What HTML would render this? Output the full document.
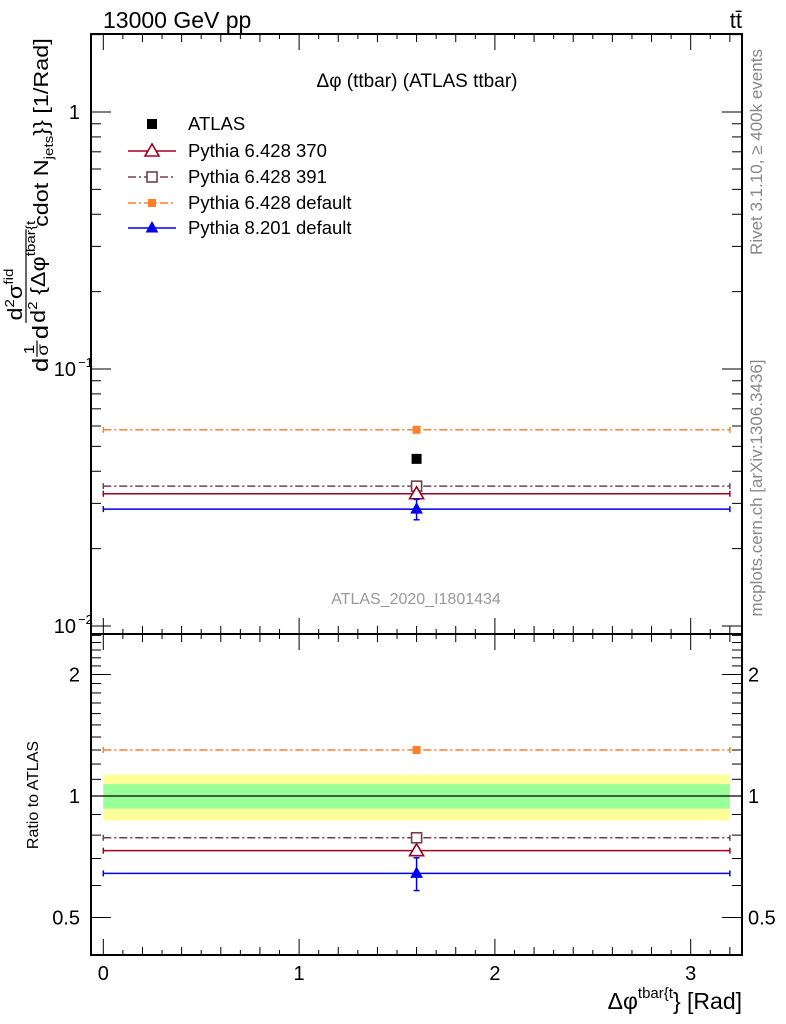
<!DOCTYPE html>
<html><head><meta charset="utf-8">
<style>
html,body{margin:0;padding:0;background:#fff;}
svg{display:block;font-family:"Liberation Sans",sans-serif;}
</style></head>
<body>
<svg id="chart" width="786" height="1024" viewBox="0 0 786 1024" xmlns="http://www.w3.org/2000/svg">
<rect x="0" y="0" width="786" height="1024" fill="#fff"/>
<g id="main-panel"></g>
<g id="ratio-panel"></g>
<text x="103" y="28" font-size="23">13000 GeV pp</text>
<text x="742" y="28" font-size="22" text-anchor="end">tt̄</text>
<text x="417" y="87" font-size="19" text-anchor="middle">Δφ (ttbar) (ATLAS ttbar)</text>
<text x="416" y="604" font-size="16" fill="#999" text-anchor="middle">ATLAS_2020_I1801434</text>
<text transform="translate(762,152) rotate(-90)" font-size="17" fill="#888" text-anchor="middle">Rivet 3.1.10, ≥ 400k events</text>
<text transform="translate(762,488) rotate(-90)" font-size="17" fill="#888" text-anchor="middle">mcplots.cern.ch [arXiv:1306.3436]</text>
<g transform="translate(48,372) rotate(-90) scale(1.17,1)">
  <text x="0" y="0" font-size="22">d</text>
  <text x="15" y="-14" font-size="15">1</text>
  <line x1="13" y1="-11" x2="27" y2="-11" stroke="#000" stroke-width="1.2"/>
  <text x="14" y="0" font-size="16">σ</text>
  <text x="28" y="0" font-size="22">d</text>
  <text x="44" y="-26" font-size="20">d<tspan font-size="13" dy="-8">2</tspan><tspan dy="8">σ</tspan><tspan font-size="13" dy="-9">fid</tspan></text>
  <line x1="42" y1="-22" x2="122" y2="-22" stroke="#000" stroke-width="1.2"/>
  <text x="42" y="-3" font-size="20">d<tspan font-size="13" dy="-8">2</tspan><tspan dy="8"> {Δφ</tspan><tspan font-size="13" dy="-10">tbar{t</tspan></text>
  <text x="124" y="0" font-size="20">cdot N<tspan font-size="13" dy="5">jets</tspan><tspan dy="-5">}} [1/Rad]</tspan></text>
</g>
<text transform="translate(38,795) rotate(-90)" font-size="16" text-anchor="middle">Ratio to ATLAS</text>
<text x="742" y="1009" font-size="23" text-anchor="end">Δφ<tspan font-size="15" dy="-11">tbar{t</tspan><tspan dy="11">} [Rad]</tspan></text>
</svg>
<script>
const binLo = [0.0];
const binHi = [3.2];
const binCenter = [1.6];
const seriesNames = ["ATLAS","Pythia 6.428 370","Pythia 6.428 391","Pythia 6.428 default","Pythia 8.201 default"];
const atlasValues = [0.0447];
const p370Values = [0.0327];
const p391Values = [0.0350];
const p6defValues = [0.0580];
const p8defValues = [0.0285];
const p8defErr = [0.0026];
const ratio370 = [0.732];
const ratio391 = [0.788];
const ratio6def = [1.30];
const ratio8def = [0.643];
const ratio8defErr = [0.06];
const ratio6defErr = [0.02];
const bandInner = [0.07];
const bandOuter = [0.13];
const xTickLabels = ["0","1","2","3"];
const ratioTickLabels = ["0.5","1","2"];

const NS="http://www.w3.org/2000/svg";
const L=91, R=742, MT=34, MB=634, RB=955;
const x = v => 103.3 + v*195.8;
const ym = v => 112 - Math.log10(v)*257;
const yr = v => 796 - Math.log2(v)*121.5;
const main=document.getElementById('main-panel');
const rat=document.getElementById('ratio-panel');
function mk(p,tag,at){const e=document.createElementNS(NS,tag);for(const k in at)e.setAttribute(k,at[k]);p.appendChild(e);return e;}
function ln(p,x1,y1,x2,y2,c,w,d){return mk(p,'line',{x1,y1,x2,y2,stroke:c,'stroke-width':w||1,'stroke-dasharray':d||'none'});}

let f=mk(main,'rect',{x:L,y:MT,width:R-L,height:MB-MT,fill:'none',stroke:'#000','stroke-width':2});


let f2=mk(rat,'rect',{x:L,y:MB,width:R-L,height:RB-MB,fill:'none',stroke:'#000','stroke-width':2});



for(let i=0;i<=32;i++){
  const v=i/10, X=x(v), major=(i%10===0), len=major?16:(i%2===0?8:5);
  if(X>R)continue;
  [[MT,1],[MB,-1],[MB,1],[RB,-1]].forEach(([y0,s])=>ln(main,X,y0,X,y0+s*len,'#000',1));
}
xTickLabels.forEach((t,i)=>{
  const e=mk(rat,'text',{x:x(i),y:980,'font-size':20,'text-anchor':'middle'});e.textContent=t;
  
  
});
for(let d=-3;d<=0;d++){
  for(let m=1;m<=9;m++){
    const v=m*Math.pow(10,d), Y=ym(v);
    if(Y<MT||Y>MB)continue;
    const len=m===1?20:10;
    ln(main,L,Y,L+len,Y,'#000',1); ln(main,R,Y,R-len,Y,'#000',1);
  }
}
[[1,'1'],[0.1,'10'],[0.01,'10']].forEach(([v,t],i)=>{
  const e=mk(main,'text',{x:i===0?80:76,y:ym(v)+7,'font-size':20,'text-anchor':'end'});e.textContent=t;
  
  
  if(i>0){const s=mk(main,'text',{x:78,y:ym(v)-2,'font-size':13});s.textContent=i===1?'−1':'−2';}
});
for(let v=0.4;v<=2.55;v+=0.1){
  const Y=yr(v); if(Y<MB||Y>RB)continue;
  const r=Math.round(v*10)/10, major=(r===0.5||r===1||r===2), len=major?20:10;
  ln(rat,L,Y,L+len,Y,'#000',1); ln(rat,R,Y,R-len,Y,'#000',1);
}
ratioTickLabels.forEach(t=>{
  const v=parseFloat(t);
  let e=mk(rat,'text',{x:80,y:yr(v)+7,'font-size':20,'text-anchor':'end'});e.textContent=t;
  
  
  e=mk(rat,'text',{x:748,y:yr(v)+7,'font-size':20});e.textContent=t;
  
  
});

binLo.forEach((lo,i)=>{
  let b=mk(rat,'rect',{x:x(lo),y:yr(1+bandOuter[i]),width:x(binHi[i])-x(lo),height:yr(1-bandOuter[i])-yr(1+bandOuter[i]),fill:'#ffff99'});
  
  
  b=mk(rat,'rect',{x:x(lo),y:yr(1+bandInner[i]),width:x(binHi[i])-x(lo),height:yr(1-bandInner[i])-yr(1+bandInner[i]),fill:'#99ff99'});
  
  
});
ln(rat,L,yr(1),R,yr(1),'#000',1.2);

const styles=[
  {c:'#a00020',d:'none',m:'tri-open'},
  {c:'#704050',d:'8,3,2,3',m:'sq-open'},
  {c:'#ff7f2a',d:'8,3,2,3',m:'sq-fill'},
  {c:'#0000ee',d:'none',m:'tri-fill'}
];
function marker(p,m,X,Y,c){
  let e;
  if(m==='tri-open') e=mk(p,'polygon',{points:`${X},${Y-7} ${X-7},${Y+5} ${X+7},${Y+5}`,fill:'#fff',stroke:c,'stroke-width':1.6});
  else if(m==='tri-fill') e=mk(p,'polygon',{points:`${X},${Y-6} ${X-5.5},${Y+4} ${X+5.5},${Y+4}`,fill:c,stroke:c,'stroke-width':1});
  else if(m==='sq-open') e=mk(p,'rect',{x:X-5,y:Y-5,width:10,height:10,fill:'#fff',stroke:c,'stroke-width':1.6});
  else if(m==='sq-fill') e=mk(p,'rect',{x:X-4,y:Y-4,width:8,height:8,fill:c});
  else e=mk(p,'rect',{x:X-5,y:Y-5,width:10,height:10,fill:'#000'});
  return e;
}
function drawSeries(p,vals,errs,yf,s,name){
  vals.forEach((v,i)=>{
    const Y=yf(v);
    const l=ln(p,x(binLo[i]),Y,x(binHi[i]),Y,s.c,1.5,s.d);
    
    
    ln(p,x(binHi[i]),Y-3,x(binHi[i]),Y+3,s.c,1.5);
    ln(p,x(binLo[i]),Y-3,x(binLo[i]),Y+3,s.c,1.5);
    if(errs){const e=errs[i];ln(p,x(binCenter[i]),yf(v+e),x(binCenter[i]),yf(v-e),s.c,1.5);
      ln(p,x(binCenter[i])-3,yf(v+e),x(binCenter[i])+3,yf(v+e),s.c,1.5);
      ln(p,x(binCenter[i])-3,yf(v-e),x(binCenter[i])+3,yf(v-e),s.c,1.5);}
    const m=marker(p,s.m,x(binCenter[i]),Y,s.c);
    
    
  });
}
drawSeries(main,p6defValues,null,ym,styles[2],'pythia6-default');
drawSeries(main,p391Values,null,ym,styles[1],'pythia6-391');
drawSeries(main,p370Values,null,ym,styles[0],'pythia6-370');
drawSeries(main,p8defValues,p8defErr,ym,styles[3],'pythia8-default');
atlasValues.forEach((v,i)=>{
  const m=marker(main,'atlas',x(binCenter[i]),ym(v),'#000');
  
  
});
drawSeries(rat,ratio6def,ratio6defErr,yr,styles[2],'ratio-pythia6-default');
drawSeries(rat,ratio391,null,yr,styles[1],'ratio-pythia6-391');
drawSeries(rat,ratio370,null,yr,styles[0],'ratio-pythia6-370');
drawSeries(rat,ratio8def,ratio8defErr,yr,styles[3],'ratio-pythia8-default');

const legY=[124,151,177,203,228];
seriesNames.forEach((n,i)=>{
  const g=mk(main,'g',{});
  
  
  if(i===0){marker(g,'atlas',152,legY[i],'#000');}
  else{const s=styles[i-1];ln(g,128,legY[i],176,legY[i],s.c,1.5,s.d);marker(g,s.m,152,legY[i],s.c);}
  const t=mk(g,'text',{x:188,y:legY[i]+6,'font-size':18.5});t.textContent=n;
});
</script>
</body></html>
